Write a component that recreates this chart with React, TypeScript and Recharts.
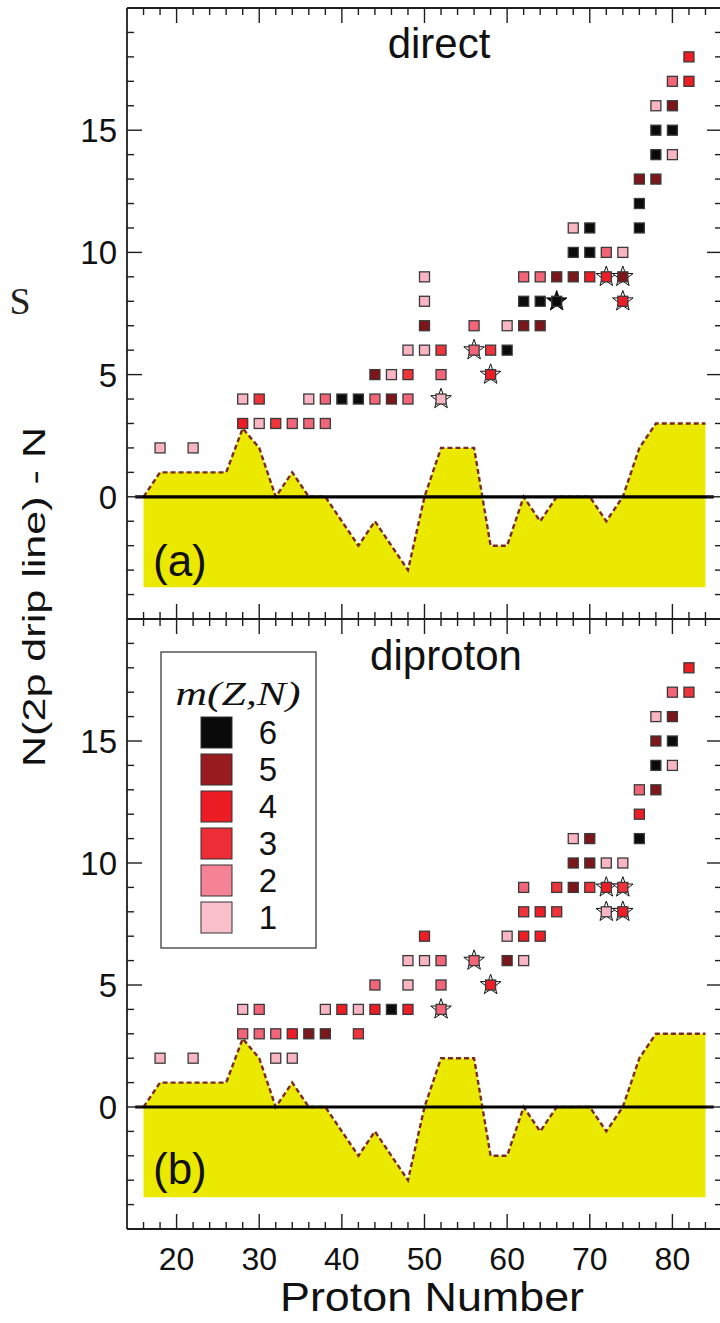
import React from 'react';
import { ComposedChart, Area, Scatter, XAxis, YAxis, ReferenceLine } from 'recharts';

// drip line offset, same for both panels
const dripZ = [16, 18, 20, 22, 24, 26, 28, 30, 32, 34, 36, 38, 40, 42, 44, 46, 48, 50, 52, 54, 56, 58, 60, 62, 64, 66, 68, 70, 72, 74, 76, 78, 80, 82, 84];
const dripN = [0, 1, 1, 1, 1, 1, 2.8, 2, 0, 1, 0, 0, -1, -2, -1, -2, -3, 0, 2, 2, 2, -2, -2, 0, -1, 0, 0, 0, -1, 0, 2, 3, 3, 3, 3];
const dripLine = dripZ.map((z, i) => ({ z, n: dripN[i] }));

// [Z, N(2p drip line) - N, m(Z,N), star]
const directPoints: [number, number, number, number][] = [
  [18, 2, 1, 0], [22, 2, 1, 0],
  [28, 3, 4, 0], [30, 3, 1, 0], [32, 3, 3, 0], [34, 3, 2, 0], [36, 3, 2, 0], [38, 3, 2, 0],
  [28, 4, 1, 0], [30, 4, 3, 0], [36, 4, 1, 0], [38, 4, 2, 0], [40, 4, 6, 0], [42, 4, 6, 0], [44, 4, 2, 0], [46, 4, 5, 0], [48, 4, 2, 0],
  [44, 5, 5, 0], [46, 5, 1, 0], [48, 5, 3, 0],
  [48, 6, 1, 0], [50, 6, 1, 0], [52, 6, 3, 0],
  [50, 7, 5, 0], [50, 8, 1, 0], [50, 9, 1, 0],
  [52, 5, 2, 0], [52, 4, 1, 1],
  [56, 7, 2, 0], [56, 6, 2, 1],
  [58, 6, 3, 0], [58, 5, 4, 1],
  [60, 7, 1, 0], [60, 6, 6, 0],
  [62, 7, 5, 0], [62, 8, 6, 0], [62, 9, 2, 0],
  [64, 7, 5, 0], [64, 8, 6, 0], [64, 9, 2, 0],
  [66, 8, 6, 1], [66, 9, 5, 0],
  [68, 9, 5, 0], [68, 10, 6, 0], [68, 11, 1, 0],
  [70, 9, 4, 0], [70, 10, 6, 0], [70, 11, 6, 0],
  [72, 9, 4, 1], [72, 10, 2, 0],
  [74, 8, 4, 1], [74, 9, 5, 1], [74, 10, 1, 0],
  [76, 11, 6, 0], [76, 12, 6, 0], [76, 13, 5, 0],
  [78, 13, 5, 0], [78, 14, 6, 0], [78, 15, 6, 0], [78, 16, 1, 0],
  [80, 14, 1, 0], [80, 15, 6, 0], [80, 16, 5, 0], [80, 17, 2, 0],
  [82, 17, 4, 0], [82, 18, 4, 0],
];

const diprotonPoints: [number, number, number, number][] = [
  [18, 2, 1, 0], [22, 2, 1, 0], [32, 2, 1, 0], [34, 2, 1, 0],
  [28, 3, 2, 0], [30, 3, 2, 0], [32, 3, 2, 0], [34, 3, 4, 0], [36, 3, 5, 0], [38, 3, 5, 0], [42, 3, 3, 0],
  [28, 4, 1, 0], [30, 4, 2, 0], [38, 4, 1, 0], [40, 4, 4, 0], [42, 4, 1, 0], [44, 4, 4, 0], [46, 4, 6, 0], [48, 4, 4, 0],
  [44, 5, 2, 0], [48, 5, 1, 0],
  [48, 6, 1, 0], [50, 6, 1, 0], [52, 6, 2, 0],
  [52, 5, 2, 0], [52, 4, 2, 1],
  [50, 7, 4, 0],
  [56, 6, 2, 1], [58, 5, 4, 1],
  [60, 7, 1, 0], [60, 6, 5, 0], [62, 6, 1, 0],
  [62, 7, 4, 0], [64, 7, 4, 0],
  [62, 8, 3, 0], [64, 8, 4, 0], [66, 8, 3, 0],
  [62, 9, 2, 0], [66, 9, 3, 0], [68, 9, 5, 0], [70, 9, 3, 0], [72, 9, 4, 1], [74, 9, 3, 1],
  [72, 8, 1, 1], [74, 8, 4, 1],
  [68, 10, 5, 0], [70, 10, 5, 0], [72, 10, 1, 0], [74, 10, 1, 0],
  [68, 11, 1, 0], [70, 11, 5, 0],
  [76, 11, 6, 0], [76, 12, 4, 0], [76, 13, 2, 0],
  [78, 13, 5, 0], [78, 14, 6, 0], [78, 15, 5, 0], [78, 16, 1, 0],
  [80, 14, 1, 0], [80, 15, 6, 0], [80, 16, 5, 0], [80, 17, 2, 0],
  [82, 17, 3, 0], [82, 18, 4, 0],
];

const xTicks = dripZ;
const yTicks = [-4, -3, -2, -1, 0, 1, 2, 3, 4, 5, 6, 7, 8, 9, 10, 11, 12, 13, 14, 15, 16, 17, 18, 19];
const yLabels = [0, 5, 10, 15];
const legendLevels = [6, 5, 4, 3, 2, 1];

const markColors: Record<number, string> = {
  6: '#0b0b0b', 5: '#7c161a', 4: '#ec1d25', 3: '#ee333b', 2: '#f26578', 1: '#f9b5c2',
};
const legendColors: Record<number, string> = {
  6: '#0a0a0a', 5: '#981b1f', 4: '#ec1c24', 3: '#ee2e37', 2: '#f58395', 1: '#f9c0cb',
};

const SANS = '"Liberation Sans", Arial, Helvetica, sans-serif';
const SERIF = '"Liberation Serif", "Times New Roman", serif';
const FRAME = '#1e1e1e';

const toRows = (pts: [number, number, number, number][]) =>
  pts.map(([z, n, m, star]) => ({ z, n, m, star: star === 1 }));

const starPoints = (cx: number, cy: number, R: number, r: number) =>
  Array.from({ length: 10 }, (_, i) => {
    const a = -Math.PI / 2 + (i * Math.PI) / 5;
    const rad = i % 2 === 0 ? R : r;
    return `${cx + rad * Math.cos(a)},${cy + rad * Math.sin(a)}`;
  }).join(' ');

const Marker = (props: any) => {
  const { cx, cy, payload } = props;
  if (cx == null || cy == null) return null;
  const fill = markColors[payload.m];
  return (
    <g>
      {payload.star && (
        <polygon points={starPoints(cx, cy, 10.8, 4.3)} fill={payload.m === 6 ? '#0b0b0b' : '#fff'} stroke="#111" strokeWidth={1} />
      )}
      <rect x={cx - 5} y={cy - 5} width={10} height={10} fill={fill} stroke="#3a3a3a" strokeWidth={1.3} />
    </g>
  );
};

const tickLen = (major: boolean) => (major ? 15 : 7);

const renderXTick = (side: 'top' | 'bottom', withLabels: boolean) => (p: any) => {
  const v = p.payload.value;
  const major = v % 10 === 0;
  const dir = side === 'bottom' ? -1 : 1;
  return (
    <g key={`xt-${side}-${v}`}>
      <line x1={p.x} y1={p.y} x2={p.x} y2={p.y + dir * tickLen(major)} stroke={FRAME} strokeWidth={1.4} />
      {withLabels && major && (
        <text x={p.x} y={p.y + 41} textAnchor="middle" fontSize={32} fontFamily={SANS} fill="#111">{v}</text>
      )}
    </g>
  );
};

const renderYTick = (side: 'left' | 'right') => (p: any) => {
  const v = p.payload.value;
  const major = v % 5 === 0;
  const dir = side === 'left' ? 1 : -1;
  return (
    <g key={`yt-${side}-${v}`}>
      <line x1={p.x} y1={p.y} x2={p.x + dir * tickLen(major)} y2={p.y} stroke={FRAME} strokeWidth={1.4} />
      {side === 'left' && yLabels.includes(v) && (
        <text x={p.x - 10} y={p.y + 12} textAnchor="end" fontSize={33} fontFamily={SANS} fill="#111">{v}</text>
      )}
    </g>
  );
};

const Panel = ({ points, height, margin, xLabels }: any) => (
  <ComposedChart width={730} height={height} margin={margin} data={dripLine}>
    <XAxis xAxisId="b" orientation="bottom" type="number" dataKey="z" domain={[14, 86]} allowDataOverflow
      ticks={xTicks} interval={0} height={1} tickSize={0} tickMargin={0} tickLine={false}
      axisLine={{ stroke: FRAME, strokeWidth: 1.8 }} tick={renderXTick('bottom', xLabels)} />
    <XAxis xAxisId="t" orientation="top" type="number" dataKey="z" domain={[14, 86]} allowDataOverflow
      ticks={xTicks} interval={0} height={1} tickSize={0} tickMargin={0} tickLine={false}
      axisLine={{ stroke: FRAME, strokeWidth: 1.8 }} tick={renderXTick('top', false)} />
    <YAxis yAxisId="l" orientation="left" type="number" dataKey="n" domain={[-5, 20]} allowDataOverflow
      ticks={yTicks} interval={0} width={1} tickSize={0} tickMargin={0} tickLine={false}
      axisLine={{ stroke: FRAME, strokeWidth: 1.8 }} tick={renderYTick('left')} />
    <YAxis yAxisId="r" orientation="right" type="number" domain={[-5, 20]} allowDataOverflow
      ticks={yTicks} interval={0} width={1} tickSize={0} tickMargin={0} tickLine={false}
      axisLine={{ stroke: FRAME, strokeWidth: 1.8 }} tick={renderYTick('right')} />
    <Area xAxisId="b" yAxisId="l" type="linear" dataKey="n" baseValue={-3.7}
      fill="#ece900" fillOpacity={1} stroke="#7a2b22" strokeWidth={2.4} strokeDasharray="5 3"
      dot={false} activeDot={false} isAnimationActive={false} />
    <ReferenceLine xAxisId="b" yAxisId="l" segment={[{ x: 15, y: 0 }, { x: 85, y: 0 }]} stroke="#000" strokeWidth={3.2} />
    <Scatter xAxisId="b" yAxisId="l" data={toRows(points)} shape={Marker} isAnimationActive={false} />
  </ComposedChart>
);

export default function App() {
  return (
    <div style={{ position: 'absolute', left: 0, top: 0, width: 720, height: 1323, overflow: 'hidden', background: '#fff' }}>
      <div style={{ position: 'absolute', left: 0, top: 0 }}>
        <Panel points={directPoints} height={620} margin={{ top: 7, right: 7, bottom: 0, left: 126 }} xLabels={false} />
      </div>
      <div style={{ position: 'absolute', left: 0, top: 610 }}>
        <Panel points={diprotonPoints} height={713} margin={{ top: 8, right: 7, bottom: 93, left: 126 }} xLabels={true} />
      </div>
      <svg width={720} height={1323} style={{ position: 'absolute', left: 0, top: 0, pointerEvents: 'none' }}>
        <text x={20} y={314} textAnchor="middle" fontSize={38} fontFamily={SERIF} fill="#222">S</text>
        <text transform="translate(45,597) rotate(-90)" textAnchor="middle" fontSize={31} fontFamily={SANS}
          textLength={340} lengthAdjust="spacingAndGlyphs" fill="#111">N(2p drip line) - N</text>
        <text x={432} y={1311} textAnchor="middle" fontSize={40} fontFamily={SANS} textLength={304}
          lengthAdjust="spacingAndGlyphs" fill="#111">Proton Number</text>
        <text x={439} y={58} textAnchor="middle" fontSize={42} fontFamily={SANS} fill="#111">direct</text>
        <text x={446} y={670} textAnchor="middle" fontSize={42} fontFamily={SANS} fill="#111">diproton</text>
        <text x={153} y={576} fontSize={44} fontFamily={SANS} fill="#111">(a)</text>
        <text x={153} y={1184} fontSize={44} fontFamily={SANS} fill="#111">(b)</text>
        <rect x={161} y={652} width={155} height={296} fill="#fff" stroke="#555" strokeWidth={1.5} />
        <text x={238} y={705} textAnchor="middle" fontSize={33} fontStyle="italic" fontFamily={SERIF}
          textLength={125} lengthAdjust="spacingAndGlyphs" fill="#111">m(Z,N)</text>
        {legendLevels.map((m, i) => (
          <g key={m}>
            <rect x={201} y={717 + i * 37} width={31} height={31} fill={legendColors[m]} stroke="#333" strokeWidth={1} />
            <text x={268} y={744 + i * 37} textAnchor="middle" fontSize={33} fontFamily={SANS} fill="#111">{m}</text>
          </g>
        ))}
      </svg>
    </div>
  );
}
